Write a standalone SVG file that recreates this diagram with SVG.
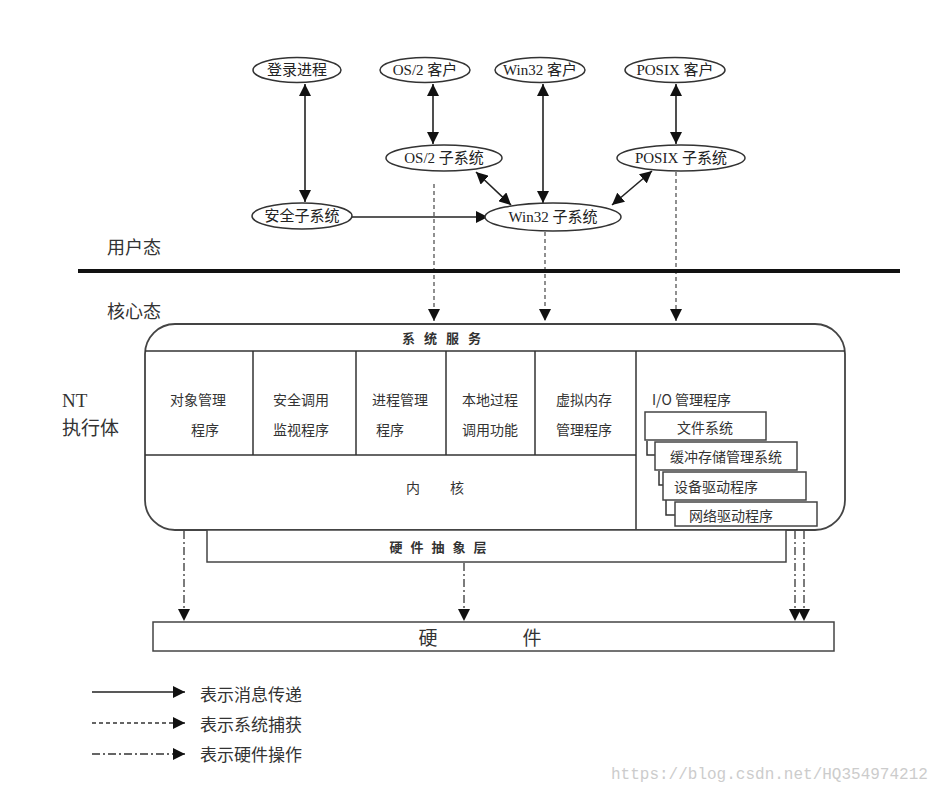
<svg xmlns="http://www.w3.org/2000/svg" width="951" height="795" viewBox="0 0 951 795">
<defs>
<marker id="ah" viewBox="0 0 10 10" refX="10" refY="5" markerWidth="12" markerHeight="12" markerUnits="userSpaceOnUse" orient="auto-start-reverse">
<path d="M0,0 L10,5 L0,10 z" fill="#111"/>
</marker>
</defs>
<style>
.bg{fill:#fff}
.el{fill:#fff;stroke:#333;stroke-width:1.5}
.ln{fill:none;stroke:#333;stroke-width:1.5}
.box{fill:#fff;stroke:#444;stroke-width:1.8}
.msg{fill:none;stroke:#222;stroke-width:1.6}
.trap{fill:none;stroke:#555;stroke-width:1.3;stroke-dasharray:4 3}
.hw{fill:none;stroke:#444;stroke-width:1.4;stroke-dasharray:8 3 2 3}
.t{font-family:"Liberation Serif","Noto Sans CJK SC",serif;font-size:15px;fill:#222;text-anchor:middle;dominant-baseline:central}
.c{font-family:"Noto Sans CJK SC",sans-serif;font-size:14px;fill:#333;text-anchor:middle;dominant-baseline:central}
.lab{font-family:"Noto Sans CJK SC",sans-serif;font-size:18px;fill:#333;dominant-baseline:central}
.sp{font-family:"Noto Sans CJK SC",sans-serif;font-size:13px;fill:#333;text-anchor:middle;dominant-baseline:central;font-weight:bold}
.wm{font-family:"Liberation Mono",monospace;font-size:16px;fill:#ccc;dominant-baseline:central}
</style>
<rect class="bg" x="0" y="0" width="951" height="795"/>

<g id="connectors">
<line class="msg" x1="305" y1="84" x2="305" y2="202" marker-start="url(#ah)" marker-end="url(#ah)"/>
<line class="msg" x1="433" y1="84" x2="433" y2="144" marker-start="url(#ah)" marker-end="url(#ah)"/>
<line class="msg" x1="543" y1="84" x2="543" y2="203" marker-start="url(#ah)" marker-end="url(#ah)"/>
<line class="msg" x1="676" y1="84" x2="676" y2="144" marker-start="url(#ah)" marker-end="url(#ah)"/>
<line class="msg" x1="476" y1="172" x2="511" y2="205" marker-start="url(#ah)" marker-end="url(#ah)"/>
<line class="msg" x1="652" y1="171" x2="612" y2="205" marker-start="url(#ah)" marker-end="url(#ah)"/>
<line class="msg" x1="352" y1="217" x2="488" y2="217" marker-end="url(#ah)"/>
<line class="trap" x1="434" y1="184" x2="434" y2="321" marker-end="url(#ah)"/>
<line class="trap" x1="545" y1="232" x2="545" y2="321" marker-end="url(#ah)"/>
<line class="trap" x1="676" y1="172" x2="676" y2="321" marker-end="url(#ah)"/>
<line class="hw" x1="184" y1="531" x2="184" y2="621" marker-end="url(#ah)"/>
<line class="hw" x1="464" y1="563" x2="464" y2="621" marker-end="url(#ah)"/>
<line class="hw" x1="795" y1="531" x2="795" y2="621" marker-end="url(#ah)"/>
<line class="hw" x1="804" y1="515" x2="804" y2="621" marker-end="url(#ah)"/>
</g>

<g id="login"><ellipse class="el" cx="297" cy="70" rx="44" ry="12.5"/><text class="t" x="297" y="70">登录进程</text></g>
<g id="os2client"><ellipse class="el" cx="425" cy="70" rx="45" ry="12.5"/><text class="t" x="425" y="70">OS/2 客户</text></g>
<g id="win32client"><ellipse class="el" cx="540" cy="70" rx="45" ry="12.5"/><text class="t" x="540" y="70">Win32 客户</text></g>
<g id="posixclient"><ellipse class="el" cx="675" cy="70" rx="50" ry="12.5"/><text class="t" x="675" y="70">POSIX 客户</text></g>
<g id="os2sub"><ellipse class="el" cx="444" cy="158" rx="58" ry="13"/><text class="t" x="444" y="158">OS/2 子系统</text></g>
<g id="posixsub"><ellipse class="el" cx="681" cy="158" rx="64" ry="13"/><text class="t" x="681" y="158">POSIX 子系统</text></g>
<g id="secsub"><ellipse class="el" cx="302" cy="216" rx="50" ry="13"/><text class="t" x="302" y="216">安全子系统</text></g>
<g id="win32sub"><ellipse class="el" cx="553" cy="217" rx="68" ry="14"/><text class="t" x="553" y="217">Win32 子系统</text></g>

<g id="divider">
<line x1="78" y1="271" x2="900" y2="271" stroke="#111" stroke-width="4"/>
<text class="lab" x="107" y="246">用户态</text>
<text class="lab" x="107" y="310">核心态</text>
</g>

<g id="ntlabel">
<text x="62" y="400" style="font-family:'Liberation Serif',serif;font-size:19px;fill:#333;dominant-baseline:central">NT</text>
<text class="lab" x="62" y="426" style="font-size:19px">执行体</text>
</g>

<g id="executive">
<rect class="box" x="145" y="324" width="700" height="206" rx="30"/>
<text class="sp" x="446" y="337" style="letter-spacing:9px">系统服务</text>
<line class="ln" x1="145" y1="351" x2="845" y2="351"/>
<line class="ln" x1="145" y1="455" x2="636" y2="455"/>
<line class="ln" x1="253" y1="351" x2="253" y2="455"/>
<line class="ln" x1="356" y1="351" x2="356" y2="455"/>
<line class="ln" x1="446" y1="351" x2="446" y2="455"/>
<line class="ln" x1="535" y1="351" x2="535" y2="455"/>
<line class="ln" x1="636" y1="351" x2="636" y2="530"/>
<text class="c" x="198" y="399">对象管理</text><text class="c" x="205" y="429">程序</text>
<text class="c" x="301" y="399">安全调用</text><text class="c" x="301" y="429">监视程序</text>
<text class="c" x="400" y="399">进程管理</text><text class="c" x="390" y="429">程序</text>
<text class="c" x="490" y="399">本地过程</text><text class="c" x="490" y="429">调用功能</text>
<text class="c" x="584" y="399">虚拟内存</text><text class="c" x="584" y="429">管理程序</text>
<text class="sp" x="450" y="487" style="letter-spacing:30px;font-weight:normal;font-size:14px">内核</text>
<text class="c" x="652" y="399" style="text-anchor:start">I/O 管理程序</text>
</g>

<g id="io-stack">
<polyline class="ln" points="647,441 647,455 656,455"/>
<rect class="box" x="645" y="412" width="121" height="28" style="stroke-width:1.5"/>
<text class="c" x="705" y="427">文件系统</text>
<polyline class="ln" points="659,471 659,485 665,485"/>
<rect class="box" x="655" y="442" width="142" height="28" style="stroke-width:1.5"/>
<text class="c" x="726" y="456">缓冲存储管理系统</text>
<polyline class="ln" points="666,500 666,515 676,515"/>
<rect class="box" x="663" y="472" width="143" height="28" style="stroke-width:1.5"/>
<text class="c" x="716" y="486">设备驱动程序</text>
<rect class="box" x="675" y="502" width="142" height="24" style="stroke-width:1.5"/>
<text class="c" x="731" y="515">网络驱动程序</text>
</g>

<g id="hal">
<rect class="box" x="207" y="530" width="579" height="32" style="stroke-width:1.5"/>
<text class="sp" x="442" y="546" style="letter-spacing:8px">硬件抽象层</text>
</g>

<g id="hardware">
<rect class="box" x="153" y="622" width="681" height="29" style="stroke-width:1.5"/>
<text class="c" x="428" y="636" style="font-size:19px">硬</text>
<text class="c" x="532" y="636" style="font-size:19px">件</text>
</g>

<g id="legend">
<line class="msg" x1="92" y1="692" x2="185" y2="692" marker-end="url(#ah)"/>
<line class="trap" x1="92" y1="723" x2="185" y2="723" marker-end="url(#ah)" style="stroke:#333"/>
<line class="hw" x1="92" y1="754" x2="185" y2="754" marker-end="url(#ah)" style="stroke:#333"/>
<text class="lab" x="200" y="693" style="font-size:17px">表示消息传递</text>
<text class="lab" x="200" y="723" style="font-size:17px">表示系统捕获</text>
<text class="lab" x="200" y="753" style="font-size:17px">表示硬件操作</text>
</g>

<text class="wm" x="611" y="775">https://blog.csdn.net/HQ354974212</text>
</svg>
